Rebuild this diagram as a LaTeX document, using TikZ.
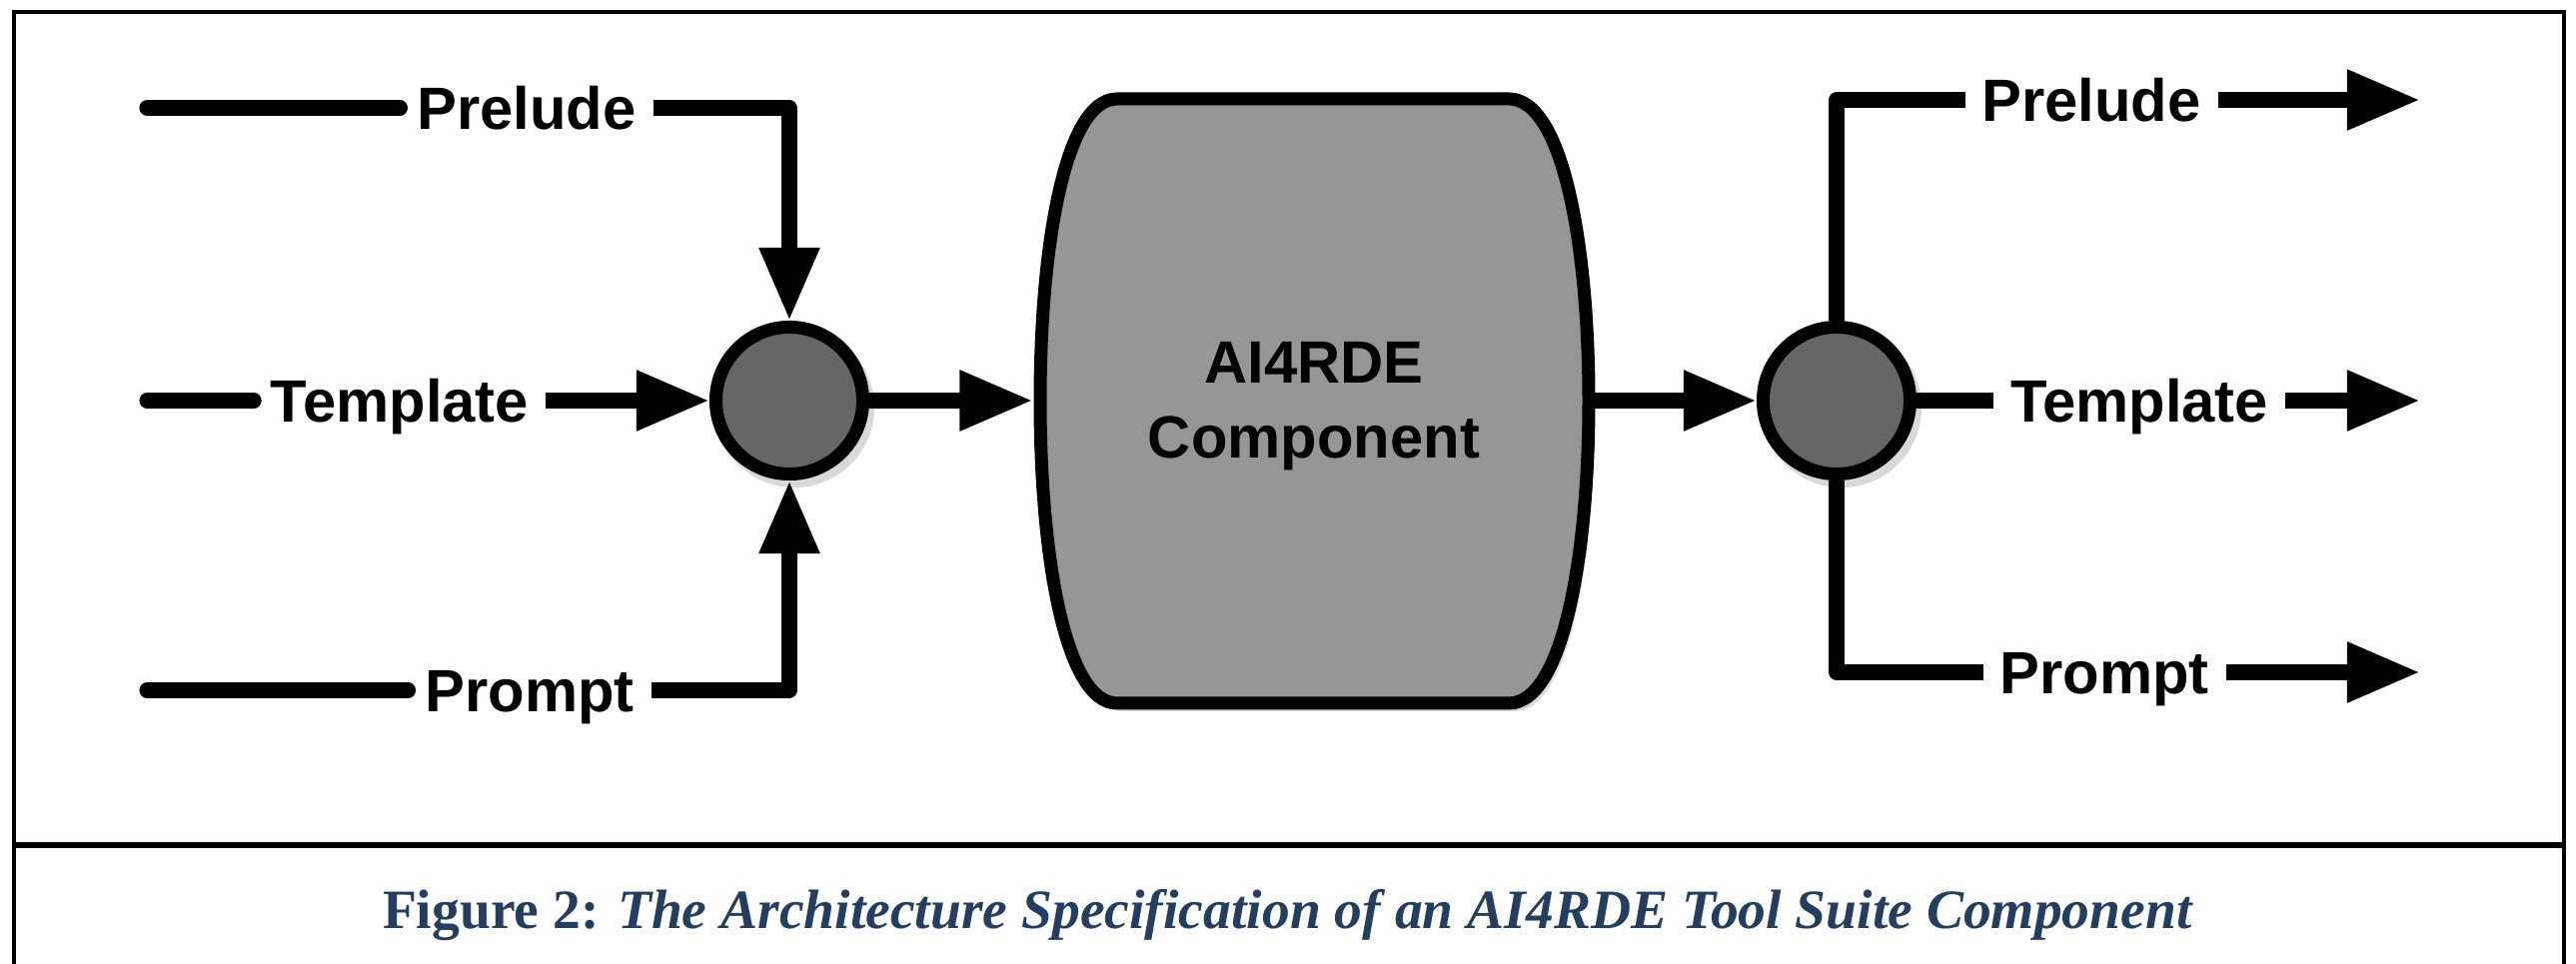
\documentclass[tikz,border=0pt]{standalone}
\usepackage{fontspec}
\setmainfont{Liberation Serif}
\newfontfamily\lblfont{Liberation Sans}
\usetikzlibrary{arrows.meta,calc}
\definecolor{compfill}{RGB}{150,150,150}
\definecolor{circfill}{RGB}{102,102,102}
\definecolor{capblue}{RGB}{36,62,96}
\tikzset{
  conn/.style={line width=4.3pt, line join=round},
  freeend/.style={conn, line cap=round},
  tip/.style={-{Triangle[length=20.8pt,width=16.2pt]}},
  lbl/.style={font=\lblfont\bfseries\fontsize{17}{21.3}\selectfont, text height=12.2pt, text depth=0pt, inner ysep=0pt, inner xsep=4.6pt},
  junction/.style={circle, draw, line width=3.7pt, fill=circfill, minimum size=1.47cm, inner sep=0pt},
  shadowstyle/.style={fill=black, opacity=0.15},
}
\begin{document}
\begin{tikzpicture}[x=0.01cm, y=-0.01cm]
\useasboundingbox (0,0) rectangle (2578,965);
% frame
\draw[line width=1.2pt] (14,965) -- (14,12) -- (2566,12) -- (2566,965);
\draw[line width=1.7pt] (14,846) -- (2566,846);

% component shape
\fill[shadowstyle] (1124,107) -- (1516,107) .. controls (1571,107) and (1596,258) .. (1596,409) .. controls (1596,560) and (1571,712) .. (1516,712) -- (1124,712) .. controls (1071,712) and (1047,560) .. (1047,409) .. controls (1047,258) and (1071,107) .. (1124,107) -- cycle;
\draw[line width=3.7pt, fill=compfill] (1118,99) -- (1510,99) .. controls (1565,99) and (1590,250) .. (1590,401) .. controls (1590,552) and (1565,704) .. (1510,704) -- (1118,704) .. controls (1065,704) and (1041,552) .. (1041,401) .. controls (1041,250) and (1065,99) .. (1118,99) -- cycle;
\node[align=center, font=\lblfont\bfseries\fontsize{17}{21.3}\selectfont, minimum width=5.61cm, minimum height=6.17cm, inner sep=0pt] (comp) at (1315,407) {AI4RDE\\Component};

% junctions
\fill[shadowstyle] (795,408) circle[radius=0.8cm];
\fill[shadowstyle] (1843,408) circle[radius=0.8cm];
\node[junction] (cL) at (790,401) {};
\node[junction] (cR) at (1838,401) {};

% left labels
\coordinate (inPre) at (147,108);
\coordinate (inTem) at (147,401);
\coordinate (inPro) at (147,691);
\node[lbl] (lPre) at (527,108) {Prelude};
\node[lbl] (lTem) at (400,401) {Template};
\node[lbl] (lPro) at (530,691) {Prompt};

\draw[freeend] (inPre) -- (lPre.west);
\draw[freeend] (inTem) -- (lTem.west);
\draw[freeend] (inPro) -- (lPro.west);
\draw[conn, tip] (lPre.east) -| (cL.north);
\draw[conn, tip] (lTem.east) -- (cL.west);
\draw[conn, tip] (lPro.east) -| (cL.south);

% to/from component
\draw[conn, tip] (cL.east) -- (cL.east -| comp.west);
\draw[conn, tip] (cR.west -| comp.east) -- (cR.west);

% right labels
\node[lbl] (rPre) at (2093,100) {Prelude};
\node[lbl] (rTem) at (2141,401) {Template};
\node[lbl] (rPro) at (2106,673) {Prompt};
\coordinate (outPre) at (2422,100);
\coordinate (outTem) at (2422,401);
\coordinate (outPro) at (2422,673);

\draw[conn] (cR.north) |- (rPre.west);
\draw[conn] (cR.east) -- (rTem.west);
\draw[conn] (cR.south) |- (rPro.west);
\draw[conn, tip] (rPre.east) -- (outPre);
\draw[conn, tip] (rTem.east) -- (outTem);
\draw[conn, tip] (rPro.east) -- (outPro);

% caption
\node[anchor=base, text=capblue, font=\fontsize{15.8}{19}\selectfont, inner sep=0pt] (cap) at (1289,930) {\textbf{Figure 2:} \textbf{\textit{The Architecture Specification of an AI4RDE Tool Suite Component}}};
\end{tikzpicture}
\end{document}
